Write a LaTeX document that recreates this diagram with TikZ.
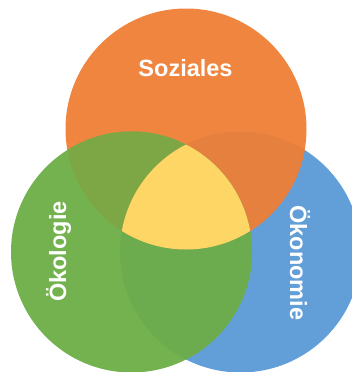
\documentclass[tikz,border=0pt]{standalone}
\usepackage{fontspec}
\setmainfont{Liberation Sans}
\definecolor{sozial}{RGB}{240,133,64}
\definecolor{oekolog}{RGB}{116,178,80}
\definecolor{oekonom}{RGB}{98,158,216}
\definecolor{sozoeko}{RGB}{125,167,68}
\definecolor{sozoekon}{RGB}{229,128,62}
\definecolor{oekooekon}{RGB}{108,171,78}
\definecolor{mitte}{RGB}{254,214,102}

\begin{document}
\begin{tikzpicture}[x=1pt, y=-1pt,
    venntext/.style={text=white, inner sep=0pt, font=\bfseries\fontsize{23.5}{28}\selectfont}]
    \useasboundingbox (0,0) rectangle (351,372);
    \def\rad{120.5pt}

    % Circle centres
    \coordinate (soz) at (186,129);
    \coordinate (oeko) at (131.5,252);
    \coordinate (oekon) at (240.5,252);

    % Circles
    \fill[oekonom] (oekon) circle[radius=\rad];
    \fill[sozial] (soz) circle[radius=\rad];
    \fill[oekolog] (oeko) circle[radius=\rad];

    % Overlaps
    \begin{scope}
        \clip (soz) circle[radius=\rad];
        \fill[sozoeko] (oeko) circle[radius=\rad];
        \fill[sozoekon] (oekon) circle[radius=\rad];
    \end{scope}
    \begin{scope}
        \clip (oeko) circle[radius=\rad];
        \fill[oekooekon] (oekon) circle[radius=\rad];
    \end{scope}
    \begin{scope}
        \clip (soz) circle[radius=\rad];
        \clip (oeko) circle[radius=\rad];
        \fill[mitte] (oekon) circle[radius=\rad];
    \end{scope}

    % Labels
    \node[venntext] (soziales) at (185.5,68.5) {Soziales};
    \node[venntext, rotate=90] (oekologie) at (58.5,251.5) {Ökologie};
    \node[venntext, rotate=-90] (oekonomie) at (300,263) {Ökonomie};
\end{tikzpicture}
\end{document}
